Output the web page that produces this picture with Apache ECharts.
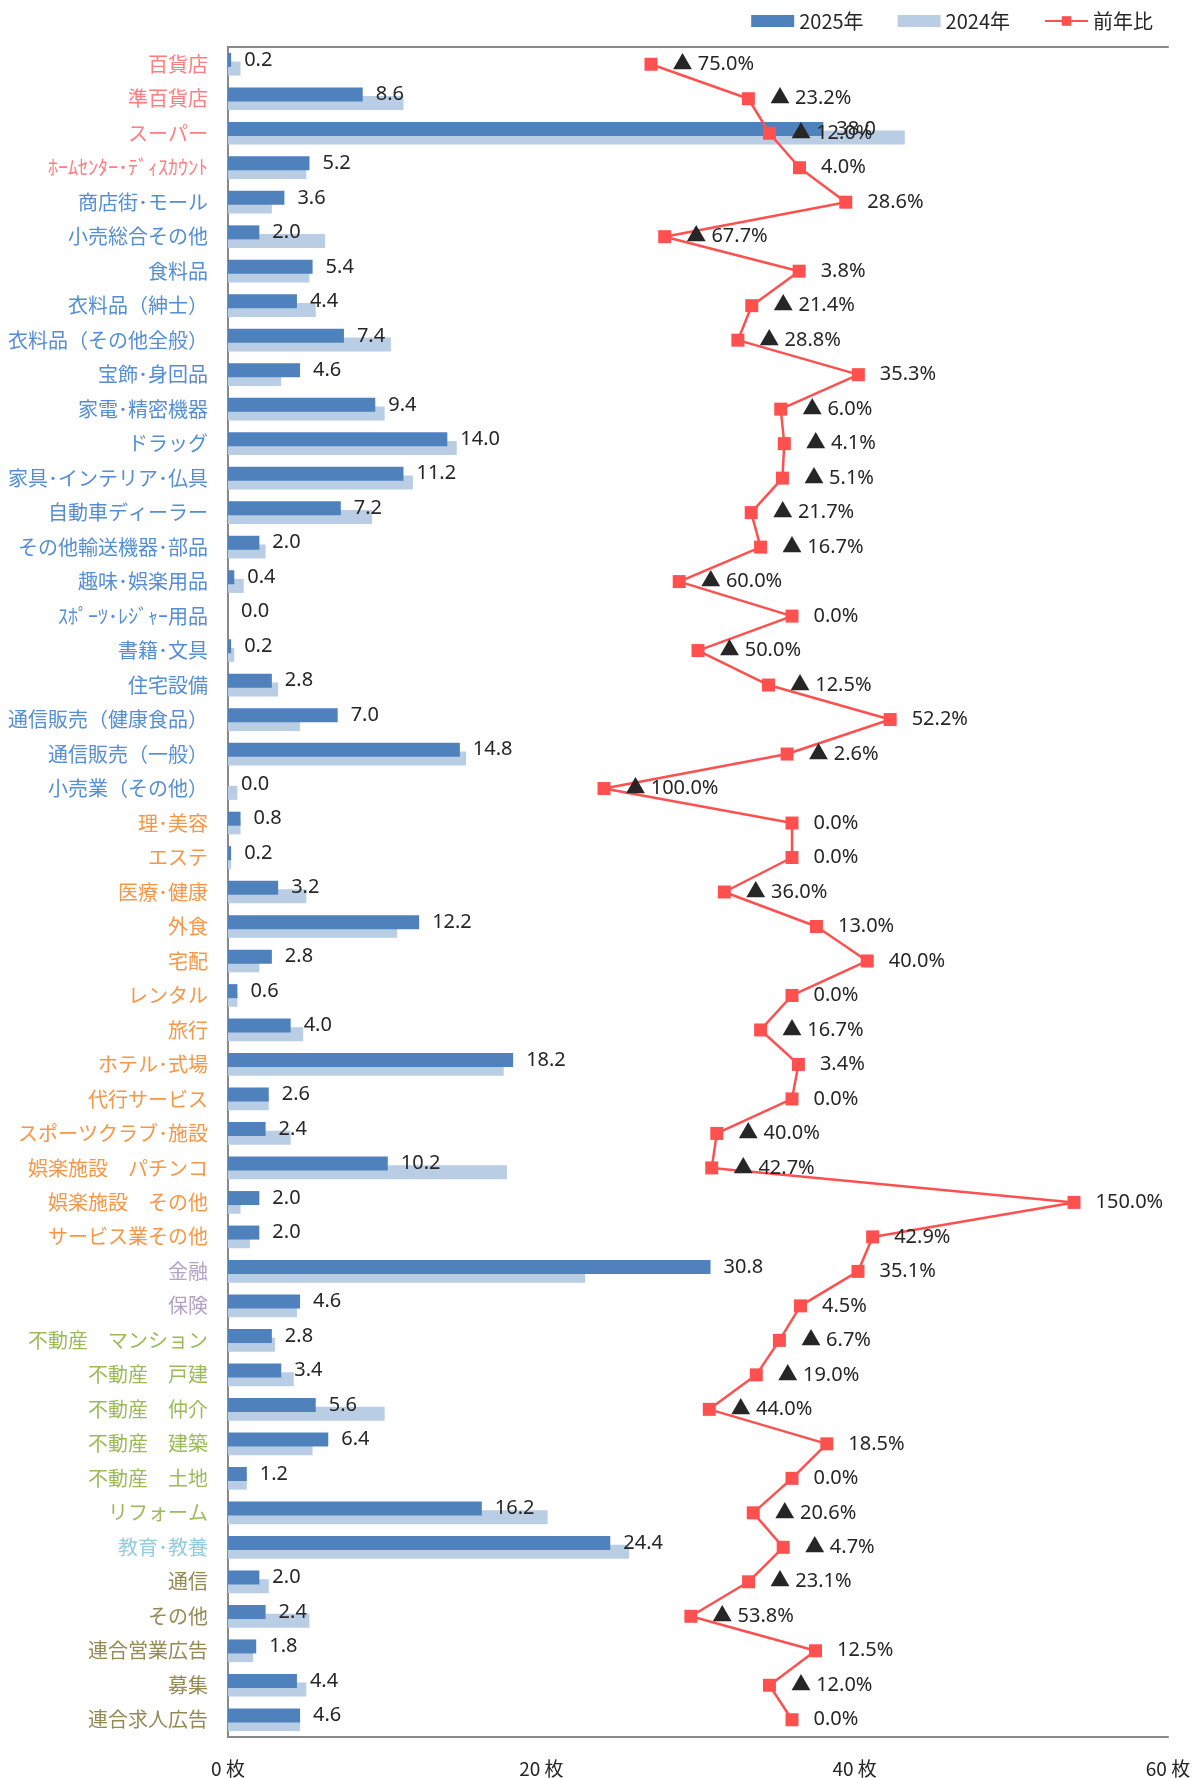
<!DOCTYPE html>
<html lang="ja">
<head>
<meta charset="utf-8">
<title>業種別 枚数 前年比</title>
<script src="https://cdn.jsdelivr.net/npm/echarts@6/dist/echarts.min.js"></script>
<style>
  html, body { margin: 0; padding: 0; background: #ffffff; }
  #chart { width: 1202px; height: 1778px; }
</style>
</head>
<body>
<div id="chart"></div>
<script>
// categories, top to bottom
const categories = [
  '百貨店', '準百貨店', 'スーパー', 'ﾎｰﾑｾﾝﾀｰ･ﾃﾞｨｽｶｳﾝﾄ', '商店街･モール', '小売総合その他',
  '食料品', '衣料品（紳士）', '衣料品（その他全般）', '宝飾･身回品', '家電･精密機器', 'ドラッグ',
  '家具･インテリア･仏具', '自動車ディーラー', 'その他輸送機器･部品', '趣味･娯楽用品', 'ｽﾎﾟｰﾂ･ﾚｼﾞｬｰ用品',
  '書籍･文具', '住宅設備', '通信販売（健康食品）', '通信販売（一般）', '小売業（その他）',
  '理･美容', 'エステ', '医療･健康', '外食', '宅配', 'レンタル', '旅行', 'ホテル･式場',
  '代行サービス', 'スポーツクラブ･施設', '娯楽施設　パチンコ', '娯楽施設　その他', 'サービス業その他',
  '金融', '保険',
  '不動産　マンション', '不動産　戸建', '不動産　仲介', '不動産　建築', '不動産　土地', 'リフォーム',
  '教育･教養',
  '通信', 'その他', '連合営業広告', '募集', '連合求人広告'
]

// label colour group of each category (index into groupColors)
const categoryGroup = [
  0, 0, 0, 0, 1, 1, 1, 1, 1, 1, 1, 1, 1, 1, 1, 1, 1, 1, 1, 1, 1, 1,
  2, 2, 2, 2, 2, 2, 2, 2, 2, 2, 2, 2, 2,
  3, 3,
  4, 4, 4, 4, 4, 4,
  5,
  6, 6, 6, 6, 6
]
const groupColors = ['#FF7C80', '#558ED5', '#F79646', '#B3A2C7', '#9BBB59', '#93CDDD', '#948A54']

const values2025 = [
  0.2, 8.6, 38.0, 5.2, 3.6, 2.0, 5.4, 4.4, 7.4, 4.6, 9.4, 14.0, 11.2, 7.2, 2.0, 0.4, 0.0,
  0.2, 2.8, 7.0, 14.8, 0.0, 0.8, 0.2, 3.2, 12.2, 2.8, 0.6, 4.0, 18.2, 2.6, 2.4, 10.2, 2.0,
  2.0, 30.8, 4.6, 2.8, 3.4, 5.6, 6.4, 1.2, 16.2, 24.4, 2.0, 2.4, 1.8, 4.4, 4.6
]

const values2024 = [
  0.8, 11.2, 43.2, 5.0, 2.8, 6.2, 5.2, 5.6, 10.4, 3.4, 10.0, 14.6, 11.8, 9.2, 2.4, 1.0, 0.0,
  0.4, 3.2, 4.6, 15.2, 0.6, 0.8, 0.2, 5.0, 10.8, 2.0, 0.6, 4.8, 17.6, 2.6, 4.0, 17.8, 0.8,
  1.4, 22.8, 4.4, 3.0, 4.2, 10.0, 5.4, 1.2, 20.4, 25.6, 2.6, 5.2, 1.6, 5.0, 4.6
]

// 前年比 (%)
const yoyRatio = [
  -75.0, -23.2, -12.0, 4.0, 28.6, -67.7, 3.8, -21.4, -28.8, 35.3, -6.0, -4.1, -5.1, -21.7,
  -16.7, -60.0, 0.0, -50.0, -12.5, 52.2, -2.6, -100.0, 0.0, 0.0, -36.0, 13.0, 40.0, 0.0,
  -16.7, 3.4, 0.0, -40.0, -42.7, 150.0, 42.9, 35.1, 4.5, -6.7, -19.0, -44.0, 18.5, 0.0,
  -20.6, -4.7, -23.1, -53.8, 12.5, -12.0, 0.0
]

const countTicks = [0, 20, 40, 60]

const axisGrey = '#898989'
const textDark = '#262626'
const numFont = '"Noto Sans", "Noto Sans CJK JP", sans-serif'
const jpFont = '"Noto Sans CJK JP", sans-serif'

const chart = echarts.init(document.getElementById('chart'))

chart.setOption({
  backgroundColor: '#ffffff',
  animation: false,
  legend: {
    top: 6,
    right: 44,
    itemGap: 34,
    itemWidth: 43,
    itemHeight: 12,
    textStyle: { fontSize: 20, color: textDark, fontFamily: jpFont },
    data: [
      { name: '2025年', icon: 'rect' },
      { name: '2024年', icon: 'rect' },
      { name: '前年比' }
    ]
  },
  grid: {
    left: 228,
    right: 34,
    top: 47,
    bottom: 41,
    containLabel: false
  },
  xAxis: [
    {
      type: 'value',
      position: 'bottom',
      min: countTicks[0],
      max: countTicks[countTicks.length - 1],
      interval: countTicks[1] - countTicks[0],
      axisLine: { show: true, lineStyle: { color: axisGrey, width: 2 } },
      axisTick: { show: false },
      splitLine: { show: false },
      axisLabel: {
        margin: 22,
        fontSize: 19,
        color: textDark,
        fontFamily: jpFont,
        formatter: '{value} 枚'
      }
    },
    {
      // secondary axis for 前年比, only its line is visible at the top
      type: 'value',
      position: 'top',
      min: -300,
      max: 200,
      axisLine: { show: true, lineStyle: { color: axisGrey, width: 2 } },
      axisTick: { show: false },
      axisLabel: { show: false },
      splitLine: { show: false }
    }
  ],
  yAxis: {
    type: 'category',
    inverse: true,
    data: categories,
    axisLine: { show: true, lineStyle: { color: axisGrey, width: 2 } },
    axisTick: { show: false },
    axisLabel: {
      margin: 20,
      fontSize: 20,
      fontFamily: jpFont,
      color: (value, index) => groupColors[categoryGroup[index]]
    }
  },
  series: [
    {
      name: '2025年',
      type: 'bar',
      data: values2025,
      barWidth: 14,
      barGap: '-38%',
      z: 3,
      itemStyle: { color: '#4F81BD' },
      label: {
        show: true,
        position: 'right',
        distance: 13,
        fontSize: 20,
        color: textDark,
        fontFamily: numFont,
        formatter: p => p.value.toFixed(1)
      }
    },
    {
      name: '2024年',
      type: 'bar',
      data: values2024,
      barWidth: 14,
      barGap: '-38%',
      z: 2,
      itemStyle: { color: '#B9CDE5' }
    },
    {
      name: '前年比',
      type: 'line',
      xAxisIndex: 1,
      data: yoyRatio,
      symbol: 'rect',
      symbolSize: 13,
      z: 4,
      lineStyle: { color: '#FF5050', width: 2.5 },
      itemStyle: { color: '#FF5050' },
      label: {
        show: true,
        position: 'right',
        distance: 15,
        fontSize: 20,
        color: textDark,
        fontFamily: numFont,
        formatter: p => p.value < 0
          ? '▲ ' + Math.abs(p.value).toFixed(1) + '%'
          : p.value.toFixed(1) + '%'
      }
    }
  ]
})
</script>
</body>
</html>
